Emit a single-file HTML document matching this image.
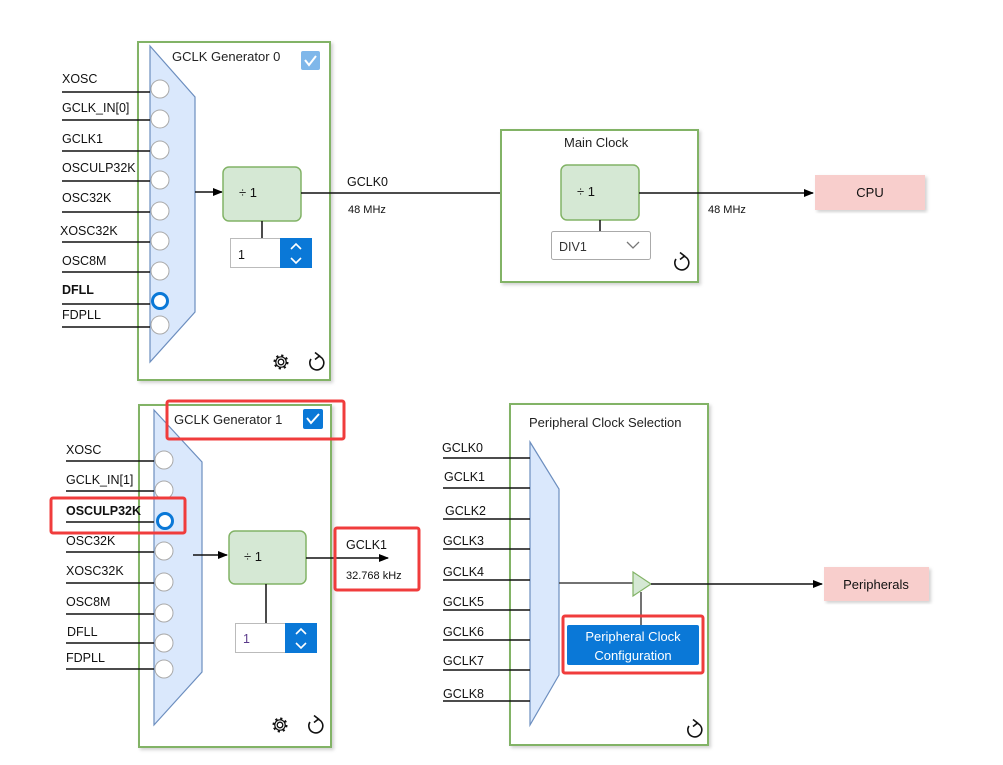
<!DOCTYPE html>
<html><head><meta charset="utf-8"><style>
html,body{margin:0;padding:0;background:#fff;}
svg{display:block;font-family:"Liberation Sans",sans-serif;}
text{font-size:12.5px;fill:#111;}
.dv{font-size:13px;}
</style></head><body>
<svg width="1003" height="765" viewBox="0 0 1003 765" xmlns="http://www.w3.org/2000/svg">
<defs>
<marker id="ar" markerWidth="10" markerHeight="8" refX="9" refY="4" orient="auto" markerUnits="userSpaceOnUse"><path d="M0,0 L10,4 L0,8 z" fill="#000"/></marker>
<filter id="sh" x="-5%" y="-5%" width="115%" height="115%"><feDropShadow dx="2" dy="2" stdDeviation="1.5" flood-color="#000" flood-opacity="0.18"/></filter>
<g id="gear"><circle r="2.8" fill="none" stroke="#111" stroke-width="1.3"/><circle r="6.5" fill="none" stroke="#111" stroke-width="2" stroke-dasharray="2.2 2.9"/><circle r="5.2" fill="none" stroke="#111" stroke-width="1.2"/></g>
<g id="ref"><path d="M-5,-4 A7,7 0 1 0 2,-7" fill="none" stroke="#111" stroke-width="1.6"/><path d="M-1,-10.5 L3.5,-7 L-1,-3.5" fill="none" stroke="#111" stroke-width="1.6"/></g>
</defs>

<!-- ===== GCLK Generator 0 ===== -->
<rect x="138" y="42" width="192" height="338" fill="#fff" stroke="#82b366" stroke-width="2" filter="url(#sh)"/>
<text x="172" y="61" style="font-size:13px;fill:#222">GCLK Generator 0</text>
<rect x="301" y="51" width="19" height="19" rx="2" fill="#7fb7ea"/>
<path d="M305,60 L309,65 L316,56" fill="none" stroke="#fff" stroke-width="2"/>
<polygon points="150,46 195,97 195,312 150,362" fill="#dae8fc" stroke="#6c8ebf" stroke-width="1.2"/>
<g stroke="#111" stroke-width="1.5">
<line x1="62" y1="92" x2="150" y2="92"/><line x1="62" y1="120" x2="150" y2="120"/><line x1="62" y1="151" x2="150" y2="151"/>
<line x1="62" y1="181" x2="150" y2="181"/><line x1="62" y1="212" x2="150" y2="212"/><line x1="62" y1="242" x2="150" y2="242"/>
<line x1="62" y1="272" x2="150" y2="272"/><line x1="62" y1="304" x2="150" y2="304"/><line x1="62" y1="327" x2="150" y2="327"/>
</g>
<g fill="#fff" stroke="#aaa" stroke-width="1">
<circle cx="160" cy="89" r="9"/><circle cx="160" cy="119" r="9"/><circle cx="160" cy="150" r="9"/><circle cx="160" cy="180" r="9"/>
<circle cx="160" cy="211" r="9"/><circle cx="160" cy="241" r="9"/><circle cx="160" cy="271" r="9"/><circle cx="160" cy="325" r="9"/>
</g>
<circle cx="160" cy="301" r="7.5" fill="#fff" stroke="#0a78d7" stroke-width="3"/>
<text x="62" y="83">XOSC</text><text x="62" y="112">GCLK_IN[0]</text><text x="62" y="143">GCLK1</text>
<text x="62" y="172">OSCULP32K</text><text x="62" y="202">OSC32K</text><text x="60" y="235">XOSC32K</text>
<text x="62" y="265">OSC8M</text><text x="62" y="294" style="font-weight:bold">DFLL</text><text x="62" y="319">FDPLL</text>
<line x1="195" y1="192" x2="222" y2="192" stroke="#111" stroke-width="1.5" marker-end="url(#ar)"/>
<rect x="223" y="167" width="78" height="54" rx="6" fill="#d5e8d4" stroke="#82b366" stroke-width="1.5"/>
<text x="239" y="197" class="dv">÷ 1</text>
<line x1="262" y1="221" x2="262" y2="239" stroke="#111" stroke-width="1.5"/>
<rect x="230.5" y="238.5" width="50" height="29" fill="#fff" stroke="#bbb"/>
<rect x="280" y="238" width="32" height="30" fill="#0a78d7"/>
<path d="M291,249 L296,244 L301,249 M291,258 L296,263 L301,258" fill="none" stroke="#fff" stroke-width="1.6"/>
<text x="238" y="259">1</text>
<use href="#gear" x="281" y="362"/><use href="#ref" x="316" y="363"/>

<!-- GCLK0 line -->
<line x1="301" y1="193" x2="560" y2="193" stroke="#111" stroke-width="1.5" marker-end="url(#ar)"/>
<text x="347" y="186">GCLK0</text><text x="348" y="213" style="font-size:11px">48 MHz</text>

<!-- ===== Main Clock ===== -->
<rect x="501" y="130" width="197" height="152" fill="#fff" stroke="#82b366" stroke-width="2" filter="url(#sh)"/>
<text x="564" y="147" style="font-size:13px;fill:#222">Main Clock</text>
<rect x="561" y="165" width="78" height="55" rx="6" fill="#d5e8d4" stroke="#82b366" stroke-width="1.5"/>
<text x="577" y="196" class="dv">÷ 1</text>
<line x1="600" y1="220" x2="600" y2="232" stroke="#111" stroke-width="1.5"/>
<rect x="551.5" y="231.5" width="99" height="28" rx="2" fill="#fff" stroke="#aaa"/>
<text x="559" y="251" style="fill:#333">DIV1</text>
<path d="M627,242 L633,248 L639,242" fill="none" stroke="#777" stroke-width="1.3"/>
<use href="#ref" x="681" y="263"/>
<line x1="639" y1="193" x2="813" y2="193" stroke="#111" stroke-width="1.5" marker-end="url(#ar)"/>
<text x="708" y="213" style="font-size:11px">48 MHz</text>
<rect x="815" y="175" width="110" height="35" fill="#f8cecc" filter="url(#sh)"/>
<text x="870" y="197" text-anchor="middle" style="font-size:13px">CPU</text>

<!-- ===== GCLK Generator 1 ===== -->
<rect x="139" y="405" width="192" height="342" fill="#fff" stroke="#82b366" stroke-width="2" filter="url(#sh)"/>
<polygon points="154,410 202,462 202,672 154,725" fill="#dae8fc" stroke="#6c8ebf" stroke-width="1.2"/>
<text x="174" y="424" style="font-size:13px;fill:#222">GCLK Generator 1</text>
<rect x="303" y="409" width="20" height="20" rx="2" fill="#0a78d7"/>
<path d="M307,418 L311,423 L319,414" fill="none" stroke="#fff" stroke-width="2"/>
<g stroke="#111" stroke-width="1.5">
<line x1="66" y1="461" x2="154" y2="461"/><line x1="66" y1="491" x2="154" y2="491"/><line x1="66" y1="522" x2="154" y2="522"/>
<line x1="66" y1="552" x2="154" y2="552"/><line x1="66" y1="583" x2="154" y2="583"/><line x1="66" y1="614" x2="154" y2="614"/>
<line x1="66" y1="643" x2="154" y2="643"/><line x1="66" y1="669" x2="154" y2="669"/>
</g>
<g fill="#fff" stroke="#aaa" stroke-width="1">
<circle cx="164" cy="460" r="9"/><circle cx="164" cy="490" r="9"/><circle cx="164" cy="551" r="9"/><circle cx="164" cy="582" r="9"/>
<circle cx="164" cy="613" r="9"/><circle cx="164" cy="643" r="9"/><circle cx="164" cy="669" r="9"/>
</g>
<circle cx="165" cy="521" r="7.5" fill="#fff" stroke="#0a78d7" stroke-width="3"/>
<text x="66" y="454">XOSC</text><text x="66" y="484">GCLK_IN[1]</text><text x="66" y="515" style="font-weight:bold">OSCULP32K</text>
<text x="66" y="545">OSC32K</text><text x="66" y="575">XOSC32K</text><text x="66" y="606">OSC8M</text>
<text x="67" y="636">DFLL</text><text x="66" y="662">FDPLL</text>
<line x1="193" y1="555" x2="227" y2="555" stroke="#111" stroke-width="1.5" marker-end="url(#ar)"/>
<rect x="229" y="531" width="77" height="53" rx="6" fill="#d5e8d4" stroke="#82b366" stroke-width="1.5"/>
<text x="244" y="561" class="dv">÷ 1</text>
<line x1="266" y1="584" x2="266" y2="623" stroke="#111" stroke-width="1.5"/>
<rect x="235.5" y="623.5" width="50" height="29" fill="#fff" stroke="#bbb"/>
<rect x="285" y="623" width="32" height="30" fill="#0a78d7"/>
<path d="M296,634 L301,629 L306,634 M296,643 L301,648 L306,643" fill="none" stroke="#fff" stroke-width="1.6"/>
<text x="243" y="643" style="fill:#5a3a8a">1</text>
<use href="#gear" x="280" y="725"/><use href="#ref" x="315" y="726"/>
<line x1="306" y1="558" x2="388" y2="558" stroke="#111" stroke-width="1.5" marker-end="url(#ar)"/>
<text x="346" y="549">GCLK1</text><text x="346" y="579" style="font-size:11px">32.768 kHz</text>

<!-- ===== Peripheral Clock Selection ===== -->
<rect x="510" y="404" width="198" height="341" fill="#fff" stroke="#82b366" stroke-width="2" filter="url(#sh)"/>
<text x="529" y="427" style="font-size:13px;fill:#222">Peripheral Clock Selection</text>
<polygon points="530,442 559,489 559,675 530,725" fill="#dae8fc" stroke="#6c8ebf" stroke-width="1.2"/>
<g stroke="#111" stroke-width="1.5">
<line x1="443" y1="458" x2="530" y2="458"/><line x1="443" y1="488" x2="530" y2="488"/><line x1="443" y1="519" x2="530" y2="519"/>
<line x1="443" y1="549" x2="530" y2="549"/><line x1="443" y1="580" x2="530" y2="580"/><line x1="443" y1="610" x2="530" y2="610"/>
<line x1="443" y1="640" x2="530" y2="640"/><line x1="443" y1="670" x2="530" y2="670"/><line x1="443" y1="701" x2="530" y2="701"/>
</g>
<text x="442" y="452">GCLK0</text><text x="444" y="481">GCLK1</text><text x="445" y="515">GCLK2</text>
<text x="443" y="545">GCLK3</text><text x="443" y="576">GCLK4</text><text x="443" y="606">GCLK5</text>
<text x="443" y="636">GCLK6</text><text x="443" y="665">GCLK7</text><text x="443" y="698">GCLK8</text>
<line x1="559" y1="583" x2="634" y2="583" stroke="#444" stroke-width="1.5"/>
<line x1="641" y1="592" x2="641" y2="626" stroke="#444" stroke-width="1.5"/>
<polygon points="633,572 651,584 633,596" fill="#d5e8d4" stroke="#82b366" stroke-width="1.2"/>
<line x1="651" y1="584" x2="822" y2="584" stroke="#111" stroke-width="1.5" marker-end="url(#ar)"/>
<rect x="567" y="625" width="132" height="40" rx="2" fill="#0a78d7"/>
<text x="633" y="641" text-anchor="middle" style="fill:#fff;font-size:13px">Peripheral Clock</text>
<text x="633" y="660" text-anchor="middle" style="fill:#fff;font-size:13px">Configuration</text>
<use href="#ref" x="694" y="730"/>
<rect x="824" y="567" width="105" height="34" fill="#f8cecc" filter="url(#sh)"/>
<text x="876" y="589" text-anchor="middle" style="font-size:13px">Peripherals</text>

<!-- red highlight boxes -->
<g fill="none" stroke="#f03c3c" stroke-width="3">
<rect x="167" y="401" width="177" height="38" rx="2"/>
<rect x="51" y="498" width="134" height="35" rx="2"/>
<rect x="335" y="528" width="84" height="62" rx="2"/>
<rect x="563" y="616" width="140" height="57" rx="2"/>
</g>
</svg>
</body></html>
